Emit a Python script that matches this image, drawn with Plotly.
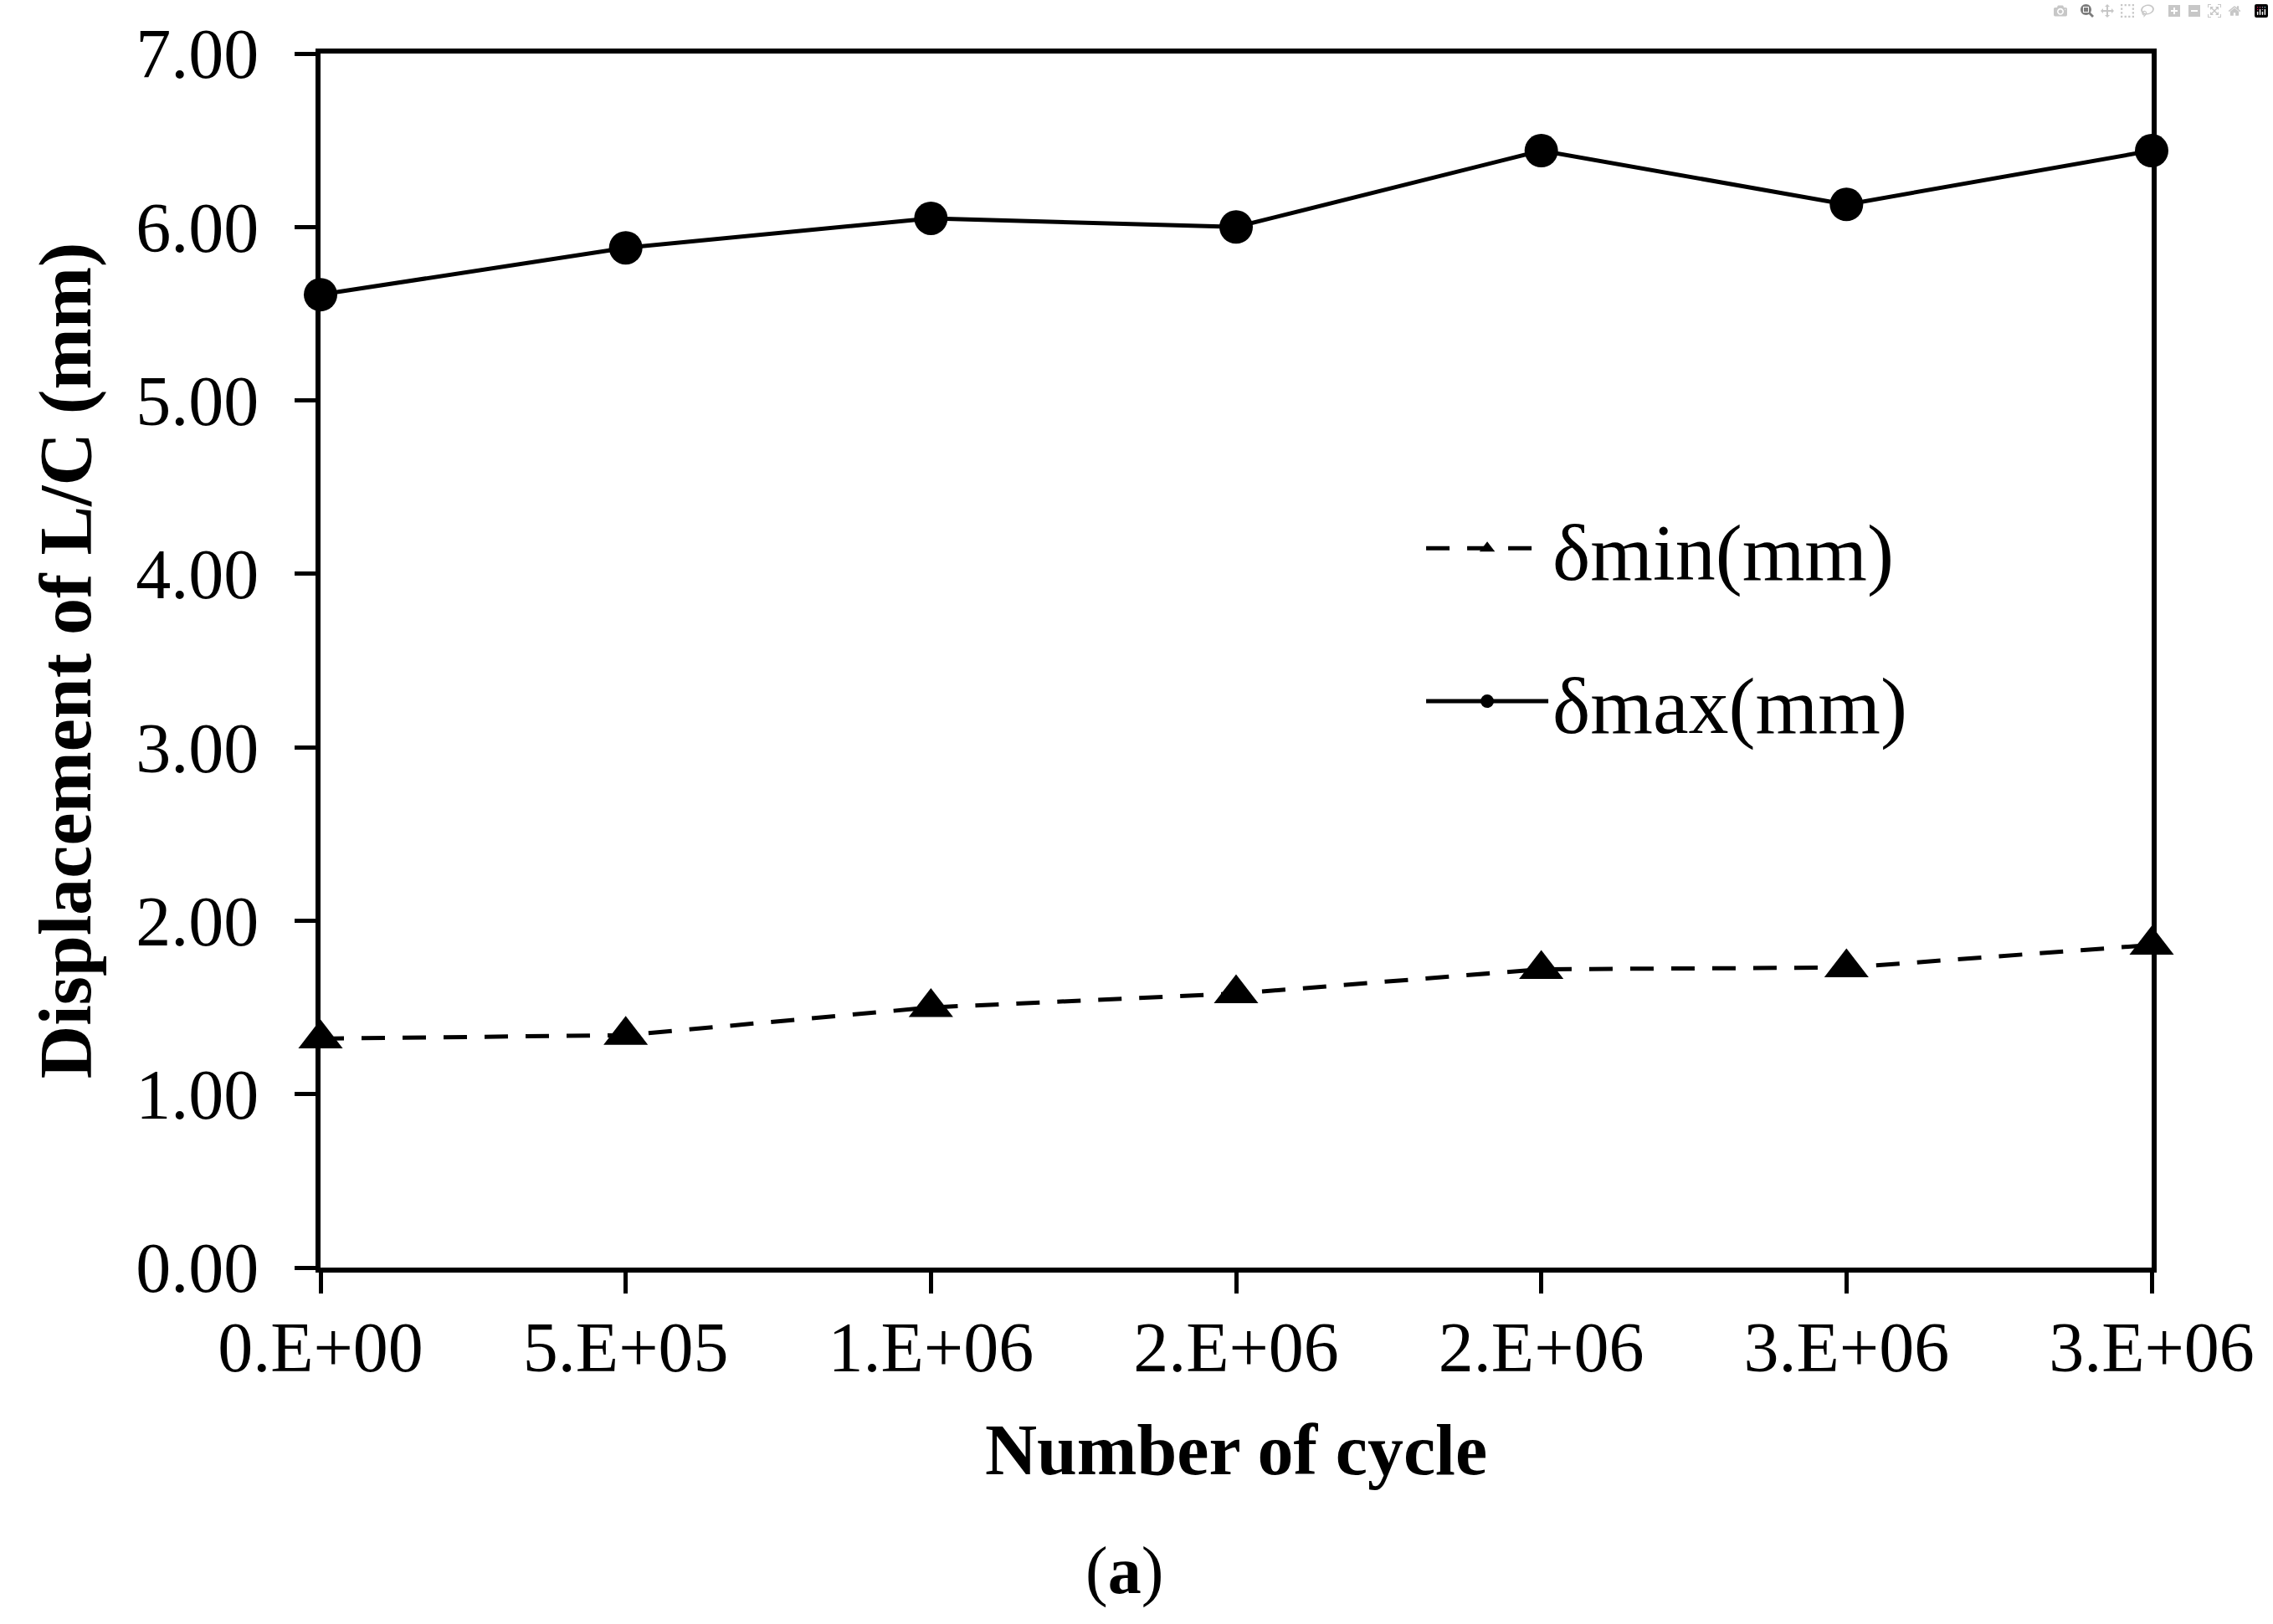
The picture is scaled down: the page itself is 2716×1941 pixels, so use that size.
import plotly.graph_objects as go

# ---- data ----
cycles = [0, 500000, 1000000, 1500000, 2000000, 2500000, 3000000]
x_tick_labels = ["0.E+00", "5.E+05", "1.E+06", "2.E+06", "2.E+06", "3.E+06", "3.E+06"]
delta_min = [1.32, 1.34, 1.50, 1.58, 1.72, 1.73, 1.86]
delta_max = [5.61, 5.88, 6.05, 6.00, 6.44, 6.13, 6.44]
y_ticks = [0, 1, 2, 3, 4, 5, 6, 7]

FONT = "Liberation Serif"
W, H = 2716, 1941

fig = go.Figure()
fig.add_trace(go.Scatter(
    x=cycles, y=delta_min, name="δmin(mm)", mode="lines+markers",
    line=dict(color="black", width=5, dash="28px,21px"),
    marker=dict(symbol="triangle-up", size=46, color="black"),
    cliponaxis=False, legendgroup="a",
))
fig.add_trace(go.Scatter(
    x=cycles, y=delta_max, name="δmax(mm)", mode="lines+markers",
    line=dict(color="black", width=5),
    marker=dict(symbol="circle", size=40, color="black"),
    cliponaxis=False, legendgroup="b",
))

axis_common = dict(
    showline=True, linecolor="black", linewidth=6, mirror=True,
    showgrid=False, zeroline=False,
    ticks="outside", ticklen=25, tickwidth=5, tickcolor="black",
    tickfont=dict(family=FONT, size=84, color="black"),
)

fig.update_xaxes(
    range=[cycles[0], cycles[-1]],
    tickvals=cycles, ticktext=x_tick_labels,
    title=dict(text="<b>Number of cycle</b>", font=dict(family=FONT, size=86, color="black"), standoff=48),
    ticklabelstandoff=-8,
    **axis_common,
)
fig.update_yaxes(
    range=[0, 7], tickvals=y_ticks, tickformat=".2f",
    title=dict(text="<b>Displacement of L/C (mm)</b>", font=dict(family=FONT, size=88, color="black"), standoff=26),
    ticklabelstandoff=26,
    **axis_common,
)

fig.update_layout(
    width=W, height=H,
    margin=dict(l=383, r=145, t=64, b=426),
    plot_bgcolor="white", paper_bgcolor="white",
    font=dict(family=FONT, color="black"),
    showlegend=True,
    legend=dict(
        x=0.6015, y=0.64, xanchor="left", yanchor="top",
        font=dict(family=FONT, size=96, color="black"),
        bgcolor="rgba(0,0,0,0)", borderwidth=0,
        traceorder="grouped", tracegroupgap=55, itemwidth=146,
    ),
    annotations=[dict(
        text="(<b>a</b>)", xref="paper", yref="paper", x=0.439, y=-0.2495,
        xanchor="center", yanchor="middle", showarrow=False,
        font=dict(family=FONT, size=80, color="black"),
    )],
)

fig.write_html("out.html", post_script="document.body.style.margin='0';")
